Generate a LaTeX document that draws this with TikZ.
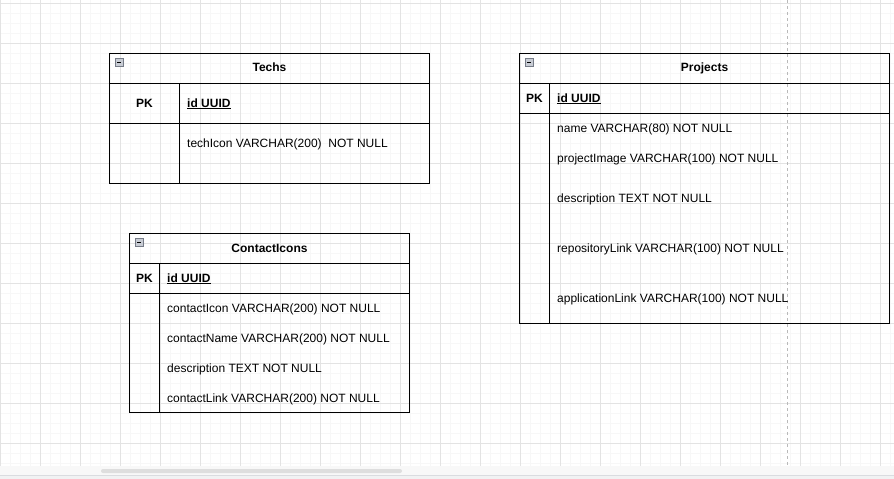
\documentclass[tikz,border=0pt]{standalone}
\usepackage{fontspec}
\setmainfont{Liberation Sans}
\usepackage{xcolor}
\usepackage{tikz}
\usetikzlibrary{positioning}
\definecolor{majorgrid}{RGB}{227,227,227}
\definecolor{minorgrid}{RGB}{247,247,247}
\definecolor{guidegray}{RGB}{185,185,185}
\definecolor{barbg}{RGB}{248,248,248}
\definecolor{barline}{RGB}{218,220,224}
\definecolor{barbottom}{RGB}{241,242,243}
\definecolor{thumbgray}{RGB}{222,222,222}
\definecolor{iconfill}{RGB}{200,204,212}
\definecolor{icondraw}{RGB}{118,124,136}
\tikzstyle{tablebox} = [rectangle, draw, line width=1pt, inner sep=0pt, outer sep=0pt]
\tikzstyle{title} = [anchor=base, inner sep=0pt, font=\fontsize{12}{14}\selectfont\bfseries]
\tikzstyle{keycol} = [anchor=base, inner sep=0pt, font=\fontsize{12}{14}\selectfont\bfseries]
\tikzstyle{field} = [anchor=base west, inner sep=0pt, font=\fontsize{12}{14}\selectfont]
\tikzstyle{keyfield} = [field, font=\fontsize{12}{14}\selectfont\bfseries]
\tikzstyle{line} = [draw, line width=1pt]
\tikzstyle{collapse} = [rectangle, draw=icondraw, fill=iconfill, line width=1pt,
    minimum size=8pt, inner sep=0pt,
    path picture={\draw[black, line width=1.3pt] ([xshift=2pt]path picture bounding box.west) -- ([xshift=-2pt]path picture bounding box.east);}]

\begin{document}
\begin{tikzpicture}[x=1pt, y=-1pt]
			\useasboundingbox (0,0) rectangle (894,479);
			% Canvas grid
			\fill[white] (0,0) rectangle (894,465.5);
			\foreach \x in {0,10,...,890} \draw[minorgrid, line width=1pt] (\x,0) -- (\x,465.5);
			\foreach \y in {3,13,...,463} \draw[minorgrid, line width=1pt] (0,\y) -- (894,\y);
			\foreach \x in {0,40,...,880} \draw[majorgrid, line width=1pt] (\x,0) -- (\x,465.5);
			\foreach \y in {3,43,...,443} \draw[majorgrid, line width=1pt] (0,\y) -- (894,\y);
			\draw[guidegray, line width=1pt, dash pattern=on 3pt off 3pt] (787,0) -- (787,465.5);
			% Scroll bar
			\fill[barbg] (0,465.5) rectangle (894,475);
			\fill[thumbgray, rounded corners=2pt] (101,469) rectangle (402,473);
			\fill[barbottom] (0,475.5) rectangle (894,479);
			\draw[barline, line width=1pt] (0,475.5) -- (894,475.5);
			% Place nodes
			\node [tablebox, minimum width=320pt, minimum height=130pt] (techs) at (269.5,118.5) {};
			\node [tablebox, minimum width=370pt, minimum height=270pt] (projects) at (704.5,188.5) {};
			\node [tablebox, minimum width=280pt, minimum height=179pt] (contacts) at (269.5,323) {};
			% Techs
			\path [line] ([yshift=-30pt]techs.north west) -- ([yshift=-30pt]techs.north east);
			\path [line] ([yshift=-70pt]techs.north west) -- ([yshift=-70pt]techs.north east);
			\path [line] ([xshift=70pt,yshift=-30pt]techs.north west) -- ([xshift=70pt]techs.south west);
			\node [collapse] (techsIcon) at ([xshift=9.5pt,yshift=-8.7pt]techs.north west) {};
			\node [title, below=18pt of techs.north, anchor=base] (techsTitle) {Techs};
			\node [keycol] (techsPK) at ([xshift=35pt,yshift=-53.5pt]techs.north west) {PK};
			\node [keyfield] (techsId) at ([xshift=77.5pt,yshift=-53.5pt]techs.north west) {\underline{id UUID}};
			\node [field, below=40pt of techsId.base west, anchor=base west] (techIcon) {techIcon VARCHAR(200)~ NOT NULL};
			% Projects
			\path [line] ([yshift=-30pt]projects.north west) -- ([yshift=-30pt]projects.north east);
			\path [line] ([yshift=-60pt]projects.north west) -- ([yshift=-60pt]projects.north east);
			\path [line] ([xshift=30pt,yshift=-30pt]projects.north west) -- ([xshift=30pt]projects.south west);
			\node [collapse] (projectsIcon) at ([xshift=9.5pt,yshift=-8.7pt]projects.north west) {};
			\node [title, below=18pt of projects.north, anchor=base] (projectsTitle) {Projects};
			\node [keycol] (projectsPK) at ([xshift=15pt,yshift=-48.5pt]projects.north west) {PK};
			\node [keyfield] (projectsId) at ([xshift=37.5pt,yshift=-48.5pt]projects.north west) {\underline{id UUID}};
			\node [field, below=30pt of projectsId.base west, anchor=base west] (projName) {name VARCHAR(80) NOT NULL};
			\node [field, below=30pt of projName.base west, anchor=base west] (projImage) {projectImage VARCHAR(100) NOT NULL};
			\node [field, below=40pt of projImage.base west, anchor=base west] (projDescription) {description TEXT NOT NULL};
			\node [field, below=50pt of projDescription.base west, anchor=base west] (projRepoLink) {repositoryLink VARCHAR(100) NOT NULL};
			\node [field, below=50pt of projRepoLink.base west, anchor=base west] (projAppLink) {applicationLink VARCHAR(100) NOT NULL};
			% ContactIcons
			\path [line] ([yshift=-30pt]contacts.north west) -- ([yshift=-30pt]contacts.north east);
			\path [line] ([yshift=-60pt]contacts.north west) -- ([yshift=-60pt]contacts.north east);
			\path [line] ([xshift=30pt,yshift=-30pt]contacts.north west) -- ([xshift=30pt]contacts.south west);
			\node [collapse] (contactsIcon) at ([xshift=9.5pt,yshift=-9.3pt]contacts.north west) {};
			\node [title, below=18.5pt of contacts.north, anchor=base] (contactsTitle) {ContactIcons};
			\node [keycol] (contactsPK) at ([xshift=15pt,yshift=-48.5pt]contacts.north west) {PK};
			\node [keyfield] (contactsId) at ([xshift=37.5pt,yshift=-48.5pt]contacts.north west) {\underline{id UUID}};
			\node [field, below=30pt of contactsId.base west, anchor=base west] (contactIcon) {contactIcon VARCHAR(200) NOT NULL};
			\node [field, below=30pt of contactIcon.base west, anchor=base west] (contactName) {contactName VARCHAR(200) NOT NULL};
			\node [field, below=30pt of contactName.base west, anchor=base west] (contactDescription) {description TEXT NOT NULL};
			\node [field, below=30pt of contactDescription.base west, anchor=base west] (contactLink) {contactLink VARCHAR(200) NOT NULL};
	\end{tikzpicture}
\end{document}
